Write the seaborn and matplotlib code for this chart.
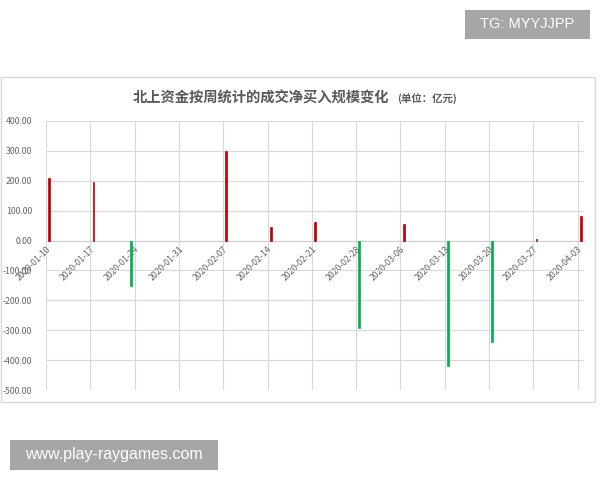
import pandas as pd
import matplotlib
matplotlib.use("Agg")
import matplotlib.pyplot as plt
import matplotlib.patches as mpatches
import seaborn as sns

# 北上资金每周净买入（亿元），01-31 当周休市
dates = ['2020-01-10', '2020-01-17', '2020-01-23', '2020-02-07', '2020-02-14', '2020-02-21',
         '2020-02-28', '2020-03-06', '2020-03-13', '2020-03-20', '2020-03-27', '2020-04-03']
values = [209, 196, -153, 300, 44, 63, -294, 57, -419, -338, 5, 81]
week_labels = ['2020-01-10', '2020-01-17', '2020-01-24', '2020-01-31', '2020-02-07', '2020-02-14',
               '2020-02-21', '2020-02-28', '2020-03-06', '2020-03-13', '2020-03-20', '2020-03-27',
               '2020-04-03']
y_ticks = [400, 300, 200, 100, 0, -100, -200, -300, -400, -500]

sns.set_theme(style="white")
plt.rcParams['font.family'] = ['Noto Sans CJK SC', 'DejaVu Sans']

start = pd.Timestamp(week_labels[0])
df = pd.DataFrame({'date': pd.to_datetime(dates), 'value': values})
df['x'] = (df['date'] - start).dt.days + 0.5   # Excel 日期轴：柱子在当天格子中间
df['sign'] = ['pos' if v >= 0 else 'neg' for v in values]

fig = plt.figure(figsize=(6, 4.8), dpi=100)
ax = fig.add_axes([46 / 600, 1 - 390 / 480, 538 / 600, 269 / 480])

sns.barplot(data=df, x='x', y='value', hue='sign', native_scale=True, dodge=False,
            palette={'pos': '#c00000', 'neg': '#00b050'}, width=0.05, saturation=1,
            errorbar=None, legend=False, ax=ax, zorder=3)
for bar in ax.patches:
    bar.set_edgecolor(bar.get_facecolor())
    bar.set_linewidth(0.5)

# 先把横轴放到 0 处（会重置刻度样式），再设刻度
for s in ['top', 'right', 'left']:
    ax.spines[s].set_visible(False)
ax.spines['bottom'].set_position(('data', 0))
ax.spines['bottom'].set_color('#d0d0d0')
ax.spines['bottom'].set_linewidth(0.8)

tick_pos = [(pd.Timestamp(d) - start).days for d in week_labels]
ax.set_xticks(tick_pos)
ax.set_xticklabels(week_labels, rotation=45, ha='right', va='top', rotation_mode='anchor',
                   fontsize=6.3, color='#666666')
ax.set_xlim(0, tick_pos[-1] + 1)
ax.set_ylim(-500, 400)
ax.set_yticks(y_ticks)
ax.set_yticklabels(['%.2f' % t for t in y_ticks], fontsize=6.3, color='#666666')
ax.tick_params(axis='both', length=0)
ax.tick_params(axis='y', pad=10)
ax.tick_params(axis='x', pad=3)
ax.set_xlabel('')
ax.set_ylabel('')
ax.grid(True, color='#d9d9d9', lw=0.8, zorder=0)
ax.set_axisbelow(True)

# 标题
fig.text(133 / 600, 1 - 99 / 480, '北上资金按周统计的成交净买入规模变化', fontsize=10.3,
         fontweight='bold', color='#595959', ha='left', va='center')
fig.text(397 / 600, 1 - 99 / 480, '(单位：亿元)', fontsize=7.5, fontweight='bold',
         color='#595959', ha='left', va='center')

# 图表外框
fig.patches.append(mpatches.Rectangle((1 / 600, 1 - 402 / 480), 594 / 600, 325 / 480,
                                      transform=fig.transFigure, fill=False,
                                      edgecolor='#d9d9d9', lw=1))

# 水印
fig.patches.append(mpatches.Rectangle((465 / 600, 1 - 39 / 480), 125 / 600, 29 / 480,
                                      transform=fig.transFigure, color='#a6a6a6', lw=0))
fig.text(527 / 600, 1 - 24.5 / 480, 'TG: MYYJJPP', fontsize=10.5, color='white',
         ha='center', va='center', family=['Liberation Sans', 'DejaVu Sans'])
fig.patches.append(mpatches.Rectangle((10 / 600, 1 - 470 / 480), 208 / 600, 30 / 480,
                                      transform=fig.transFigure, color='#a6a6a6', lw=0))
fig.text(114 / 600, 1 - 455 / 480, 'www.play-raygames.com', fontsize=11.5, color='white',
         ha='center', va='center', family=['Liberation Sans', 'DejaVu Sans'])

fig.savefig('out.png', dpi=100)
